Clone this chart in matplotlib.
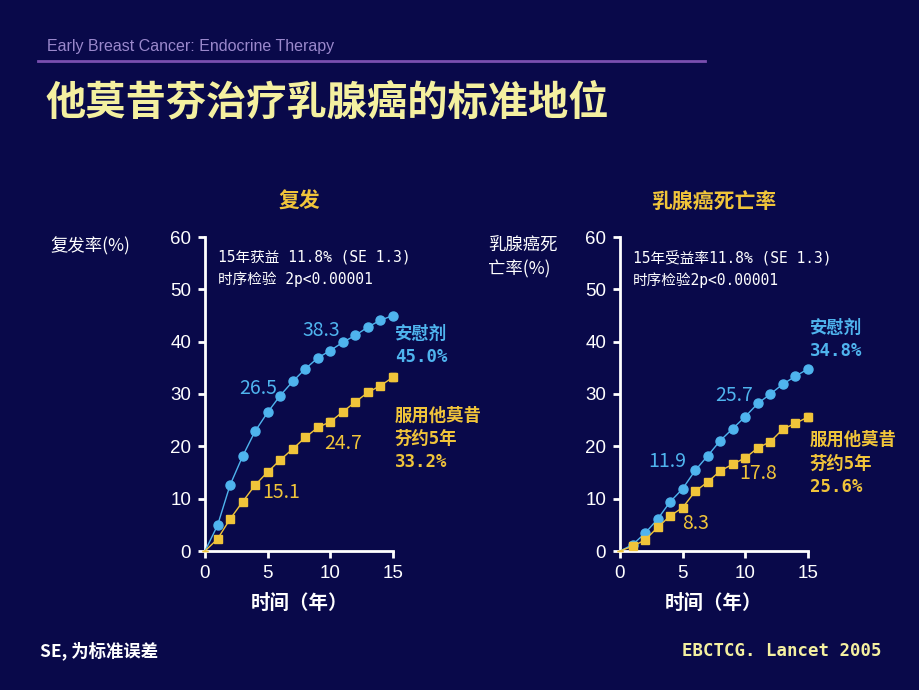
import matplotlib
matplotlib.use("Agg")
import matplotlib.pyplot as plt

plt.rcParams['font.family'] = ['Noto Sans CJK SC', 'DejaVu Sans']
MONO = ['DejaVu Sans Mono', 'Noto Sans CJK SC']

BG = '#09094a'
BLUE = '#4fb4ee'
GOLD = '#f0c43a'
PALE = '#f4f0a0'

years = list(range(0, 16))

# 复发 (recurrence)
recur_placebo = [0, 4.9, 12.6, 18.1, 22.9, 26.5, 29.7, 32.4, 34.8, 36.9,
                 38.3, 39.9, 41.2, 42.8, 44.1, 45.0]
recur_tam = [0, 2.3, 6.1, 9.4, 12.6, 15.1, 17.4, 19.5, 21.7, 23.6,
             24.7, 26.6, 28.5, 30.3, 31.6, 33.2]
recur_tam_se = [0, 0.6, 0, 0, 0, 0, 0, 0, 0, 0, 0.7, 0, 0, 0, 0, 0.8]

# 乳腺癌死亡率 (breast cancer mortality)
mort_placebo = [0, 1.2, 3.4, 6.1, 9.4, 11.9, 15.4, 18.2, 21.1, 23.4,
                25.7, 28.2, 30.0, 31.9, 33.4, 34.8]
mort_tam = [0, 0.9, 2.1, 4.5, 6.7, 8.3, 11.4, 13.2, 15.3, 16.6,
            17.8, 19.7, 20.9, 23.3, 24.4, 25.6]
mort_tam_se = [0, 0, 0.6, 0, 0, 0, 0, 0, 0, 0, 0.7, 0, 0, 0, 0, 0.8]

panels = [
    dict(title='复发', ylabel='复发率(%)', ylabel_x=-0.82,
         note='15年获益 11.8% (SE 1.3)\n时序检验 2p<0.00001',
         placebo=recur_placebo, tam=recur_tam, se=recur_tam_se,
         p_end='安慰剂\n45.0%', t_end='服用他莫昔\n芬约5年\n33.2%',
         p_labels=[(5, '26.5', (-10, 24)), (10, '38.3', (-9, 20))],
         t_labels=[(5, '15.1', (14, -21)), (10, '24.7', (13, -22))],
         p_end_off=(2, -9), t_end_off=(2, -29)),
    dict(title='乳腺癌死亡率', ylabel='乳腺癌死\n亡率(%)', ylabel_x=-0.70,
         note='15年受益率11.8% (SE 1.3)\n时序检验2p<0.00001',
         placebo=mort_placebo, tam=mort_tam, se=mort_tam_se,
         p_end='安慰剂\n34.8%', t_end='服用他莫昔\n芬约5年\n25.6%',
         p_labels=[(5, '11.9', (-15, 27)), (10, '25.7', (-11, 21))],
         t_labels=[(5, '8.3', (13, -16)), (10, '17.8', (13, -16))],
         p_end_off=(2, 50), t_end_off=(2, -14)),
]

fig = plt.figure(figsize=(9.2, 6.9), dpi=100, facecolor=BG)

# header
fig.text(47 / 920, 1 - 46 / 690, 'Early Breast Cancer: Endocrine Therapy',
         color='#9a88cc', fontsize=11.5, va='center', family=['Liberation Sans', 'DejaVu Sans'])
fig.add_artist(plt.Line2D([38 / 920, 705 / 920], [1 - 61 / 690, 1 - 61 / 690],
                          color='#7a4fb0', lw=2))
fig.text(45 / 920, 1 - 103 / 690, '他莫昔芬治疗乳腺癌的标准地位',
         color=PALE, fontsize=29, fontweight='bold', va='center')

lefts = [205 / 920, 620 / 920]
for left, p in zip(lefts, panels):
    ax = fig.add_axes([left, 1 - 551 / 690, 188 / 920, 314 / 690])
    ax.set_facecolor('none')
    ax.plot(years, p['placebo'], color=BLUE, lw=1, marker='o', ms=6.5,
            mec=BLUE, mfc=BLUE, markevery=range(1, 16), clip_on=False, zorder=3)
    ax.errorbar(years, p['tam'], yerr=p['se'], color=GOLD, lw=1, marker='s',
                ms=5.5, mec=GOLD, mfc=GOLD, ecolor=GOLD, elinewidth=1.5,
                capsize=2.5, markevery=range(1, 16), clip_on=False, zorder=4)
    ax.set_xlim(0, 15)
    ax.set_ylim(0, 60)
    ax.set_xticks([0, 5, 10, 15])
    ax.set_yticks([0, 10, 20, 30, 40, 50, 60])
    for s in ['top', 'right']:
        ax.spines[s].set_visible(False)
    for s in ['left', 'bottom']:
        ax.spines[s].set_color('white')
        ax.spines[s].set_linewidth(2)
    ax.tick_params(colors='white', labelsize=13.5, width=2, length=5,
                   direction='out', pad=5)
    for lab in ax.get_xticklabels() + ax.get_yticklabels():
        lab.set_family(['Liberation Sans', 'DejaVu Sans'])
    ax.set_xlabel('时间（年）', color='white', fontsize=14, fontweight='bold',
                  labelpad=9)
    ax.text(0.5, 1.115, p['title'], transform=ax.transAxes, color=GOLD,
            fontsize=15, fontweight='bold', ha='center', va='center')
    ax.text(p['ylabel_x'], 1.0, p['ylabel'], transform=ax.transAxes, color='white',
            fontsize=12.5, ha='left', va='top', linespacing=1.35)
    ax.text(0.07, 0.96, p['note'], transform=ax.transAxes, color='white',
            fontsize=10.5, ha='left', va='top', linespacing=1.55, family=MONO)
    for x, s, off in p['p_labels']:
        ax.annotate(s, (x, p['placebo'][x]), xytext=off, textcoords='offset pixels',
                    color=BLUE, fontsize=14, ha='center', va='center')
    for x, s, off in p['t_labels']:
        ax.annotate(s, (x, p['tam'][x]), xytext=off, textcoords='offset pixels',
                    color=GOLD, fontsize=14, ha='center', va='center')
    ax.annotate(p['p_end'], (15, p['placebo'][-1]), xytext=p['p_end_off'],
                textcoords='offset pixels', color=BLUE, fontsize=12.5,
                fontweight='bold', ha='left', va='top', linespacing=1.4,
                annotation_clip=False, family=MONO)
    ax.annotate(p['t_end'], (15, p['tam'][-1]), xytext=p['t_end_off'],
                textcoords='offset pixels', color=GOLD, fontsize=12.5,
                fontweight='bold', ha='left', va='top', linespacing=1.4,
                annotation_clip=False, family=MONO)

# footer
fig.text(40 / 920, 1 - 651 / 690, 'SE, 为标准误差', color='white', fontsize=12.5,
         va='center', fontweight='bold')
fig.text(882 / 920, 1 - 651 / 690, 'EBCTCG. Lancet 2005', color=PALE,
         fontsize=12.5, va='center', ha='right', fontweight='bold',
         family=['DejaVu Sans Mono'])

fig.savefig('out.png', dpi=100, facecolor=BG)
